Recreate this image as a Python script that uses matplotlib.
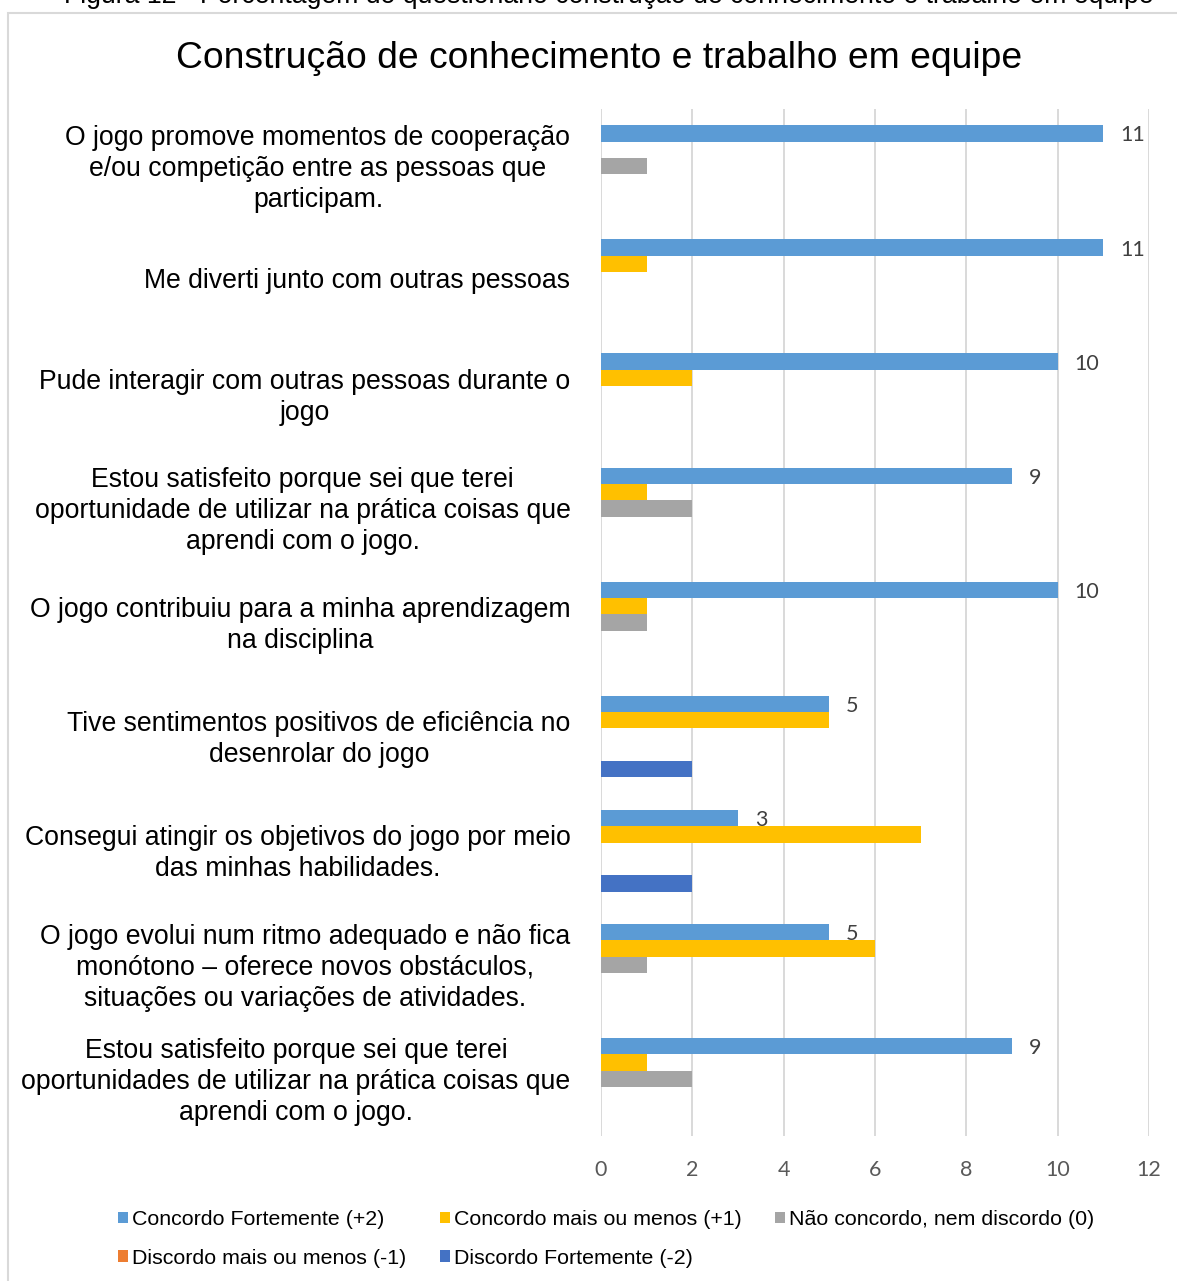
import matplotlib
matplotlib.use("Agg")
import matplotlib.pyplot as plt
from matplotlib.patches import Rectangle
import numpy as np

categories = [
    "O jogo promove momentos de cooperação\ne/ou competição entre as pessoas que\nparticipam.",
    "Me diverti junto com outras pessoas",
    "Pude interagir com outras pessoas durante o\njogo",
    "Estou satisfeito porque sei que terei\noportunidade de utilizar na prática coisas que\naprendi com o jogo.",
    "O jogo contribuiu para a minha aprendizagem\nna disciplina",
    "Tive sentimentos positivos de eficiência no\ndesenrolar do jogo",
    "Consegui atingir os objetivos do jogo por meio\ndas minhas habilidades.",
    "O jogo evolui num ritmo adequado e não fica\nmonótono – oferece novos obstáculos,\nsituações ou variações de atividades.",
    "Estou satisfeito porque sei que terei\noportunidades de utilizar na prática coisas que\naprendi com o jogo.",
]

series_names = [
    "Concordo Fortemente (+2)",
    "Concordo mais ou menos (+1)",
    "Não concordo, nem discordo (0)",
    "Discordo mais ou menos (-1)",
    "Discordo Fortemente (-2)",
]
concordo_fortemente = [11, 11, 10, 9, 10, 5, 3, 5, 9]
concordo_mais_ou_menos = [0, 1, 2, 1, 1, 5, 7, 6, 1]
nao_concordo_nem_discordo = [1, 0, 0, 2, 1, 0, 0, 1, 2]
discordo_mais_ou_menos = [0, 0, 0, 0, 0, 0, 0, 0, 0]
discordo_fortemente = [0, 0, 0, 0, 0, 2, 2, 0, 0]
series_values = [concordo_fortemente, concordo_mais_ou_menos, nao_concordo_nem_discordo,
                 discordo_mais_ou_menos, discordo_fortemente]
colors = ["#5B9BD5", "#FFC000", "#A5A5A5", "#ED7D31", "#4472C4"]
xticks = [0, 2, 4, 6, 8, 10, 12]

W, H = 1177, 1281
fig = plt.figure(figsize=(W / 100, H / 100), dpi=100)
ax = fig.add_axes([601 / W, 1 - 1136 / H, (1149 - 601) / W, (1136 - 109) / H])

n = len(categories)
y = np.arange(n)
bh = 0.143
handles = []
for k, (vals, col, name) in enumerate(zip(series_values, colors, series_names)):
    bars = ax.barh(y + (k - 2) * bh, vals, height=bh, color=col, label=name, zorder=3)
    handles.append(bars)
    if k == 0:
        for yi, v in zip(y, vals):
            ax.annotate(str(v), xy=(v, yi + (k - 2) * bh), xytext=(12, 0),
                        textcoords="offset points", ha="left", va="center_baseline",
                        fontsize=15.5, color="#404040", family="Lato")

ax.set_ylim(n - 0.5, -0.5)
ax.set_xlim(0, 12)
ax.set_xticks(xticks)
ax.set_xticklabels([str(t) for t in xticks], family="Lato", fontsize=15.5, color="#595959")
# label block nudged slightly up to match the reference's vertical centring
ax.set_yticks(y - 0.022)
ax.set_yticklabels(categories, family="Liberation Sans", fontsize=19.2,
                   multialignment="center", linespacing=1.24, color="black")
ax.tick_params(axis="y", length=0, pad=22)
ax.tick_params(axis="x", length=0, pad=17)
ax.grid(axis="x", color="#D9D9D9", lw=1.4, zorder=0)
for s in ax.spines.values():
    s.set_visible(False)

fig.text(599.5 / W, 1 - 58 / H, "Construção de conhecimento e trabalho em equipe",
         ha="center", va="center", fontsize=26.8, family="Liberation Sans")
fig.text(609 / W, 1 - 3 / H,
         "Figura 12 - Porcentagem do questionário construção de conhecimento e trabalho em equipe",
         ha="center", va="baseline", fontsize=19.2, family="Liberation Sans")

fig.add_artist(Rectangle((7.5 / W, -0.05), 1.2, 1.05 - 13 / H, fill=False,
                         edgecolor="#D9D9D9", lw=1.5, transform=fig.transFigure))

order = [0, 3, 1, 4, 2]
fig.legend([handles[i] for i in order], [series_names[i] for i in order],
           ncol=3, loc="upper left", bbox_to_anchor=(118 / W, 1 - 1210 / H),
           frameon=False, prop={"family": "Liberation Sans", "size": 15.4},
           handlelength=0.47, handleheight=0.47, handletextpad=0.2,
           columnspacing=1.55, labelspacing=0.92, borderpad=0, borderaxespad=0)

fig.savefig("out.png", dpi=100)
